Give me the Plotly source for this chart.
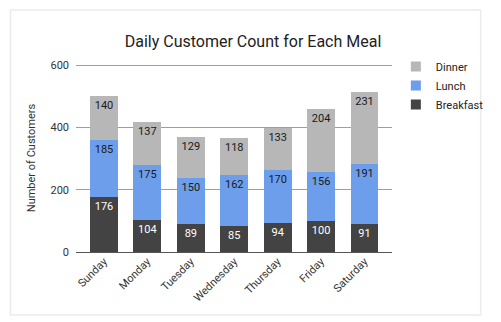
import plotly.graph_objects as go

days = ["Sunday", "Monday", "Tuesday", "Wednesday", "Thursday", "Friday", "Saturday"]
breakfast = [176, 104, 89, 85, 94, 100, 91]
lunch = [185, 175, 150, 162, 170, 156, 191]
dinner = [140, 137, 129, 118, 133, 204, 231]

W, H = 501, 322
L, R, T, B = 76, 97, 64, 70
pw, ph = W - L - R, H - T - B

fig = go.Figure()
series = [
    ("Breakfast", breakfast, "#434343", "#ffffff"),
    ("Lunch", lunch, "#6d9eeb", "#1a1a1a"),
    ("Dinner", dinner, "#b7b7b7", "#1a1a1a"),
]
for name, vals, col, tcol in series:
    fig.add_trace(go.Bar(
        name=name, x=days, y=vals, marker=dict(color=col, line=dict(width=0)),
        width=0.64, text=[str(v) for v in vals], textposition="inside",
        insidetextanchor="end", textangle=0,
        textfont=dict(color=tcol, size=11, family="Roboto"),
        cliponaxis=False, showlegend=False,
    ))
for name, vals, col, tcol in series:
    fig.add_trace(go.Scatter(
        name=name, x=[None], y=[None], mode="markers",
        marker=dict(symbol="square", size=10, color=col), showlegend=True,
    ))

def px(x):
    return (x - L) / pw

def py(y):
    return (H - B - y) / ph

fig.add_shape(type="rect", xref="paper", yref="paper",
              x0=px(8), x1=px(496), y0=py(315), y1=py(10),
              line=dict(color="#ebebeb", width=1.5), fillcolor="rgba(0,0,0,0)", layer="below")

fig.update_layout(
    width=W, height=H, barmode="stack",
    margin=dict(l=L, r=R, t=T, b=B, pad=0),
    paper_bgcolor="white", plot_bgcolor="white",
    font=dict(family="Roboto", size=11, color="#444"),
    title=dict(text="Daily Customer Count for Each Meal", x=(253) / W, xanchor="center",
               y=1 - 41 / H, yanchor="middle",
               font=dict(size=16, color="#222", family="Roboto")),
    legend=dict(traceorder="reversed", x=px(408), xanchor="left", y=py(52), yanchor="top",
                font=dict(size=11, color="#222"), itemwidth=30, tracegroupgap=0,
                bgcolor="rgba(0,0,0,0)"),
    xaxis=dict(range=[-0.644, 6.633], tickangle=-45, showgrid=False, showline=False,
               ticks="", tickfont=dict(size=11, color="#333")),
    yaxis=dict(range=[0, 603.5], tickvals=[0, 200, 400, 600], showgrid=True,
               gridcolor="#9e9e9e", gridwidth=1, zeroline=True, zerolinecolor="#555",
               zerolinewidth=1, ticks="", ticklabelstandoff=6,
               tickfont=dict(size=11, color="#333"),
               title=dict(text="Number of Customers", font=dict(size=11, color="#333"), standoff=12)),
    bargap=0.36,
)
fig.write_html("out.html")
